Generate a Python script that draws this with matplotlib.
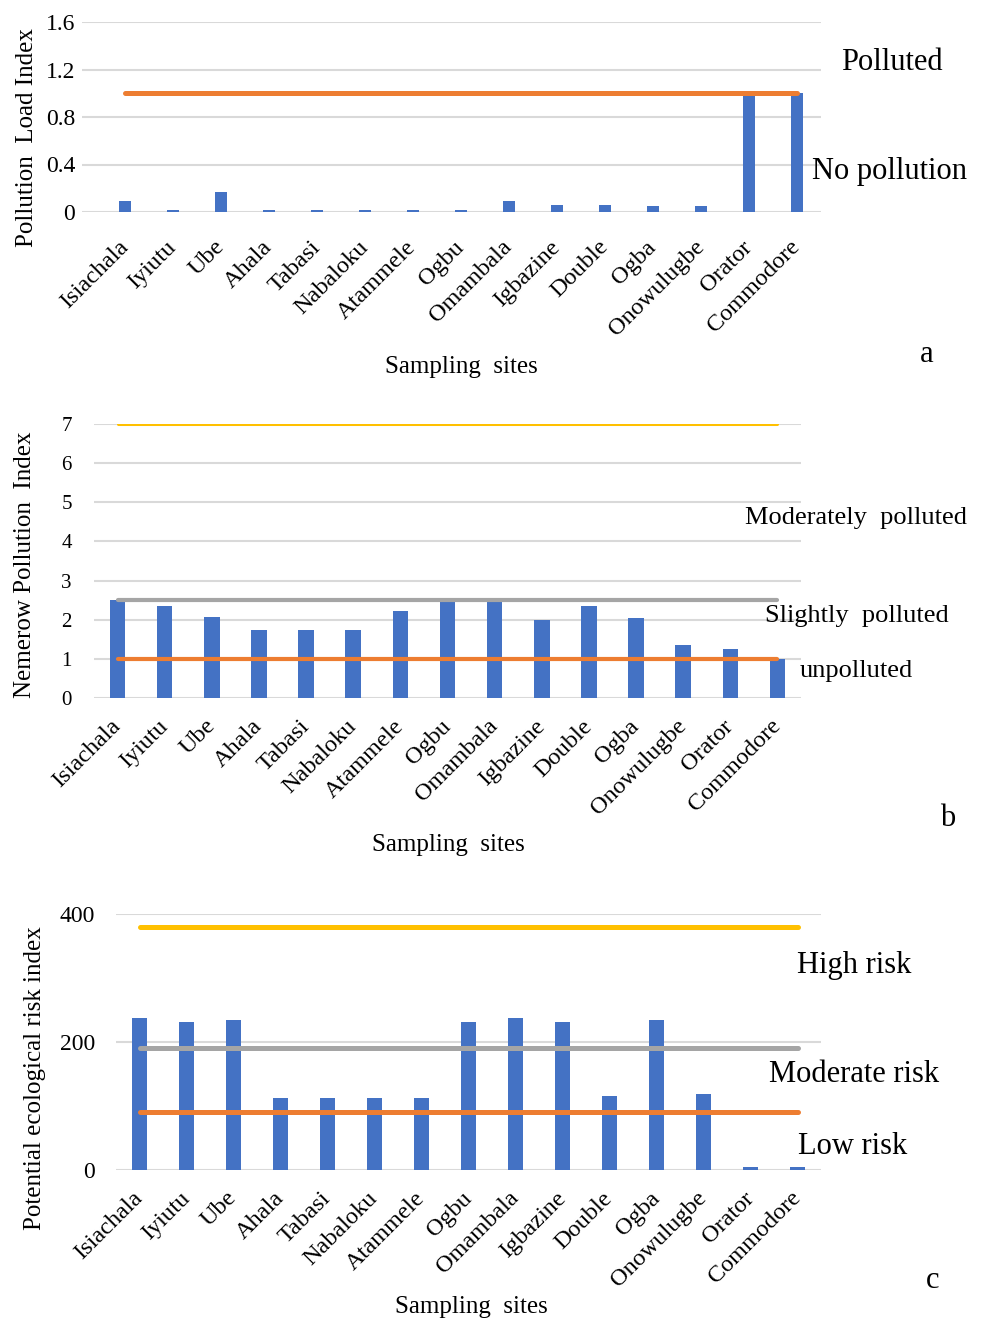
import matplotlib
matplotlib.use('Agg')  # no display
import matplotlib.pyplot as plt
import numpy as np

sites = ['Isiachala', 'Iyiutu', 'Ube', 'Ahala', 'Tabasi', 'Nabaloku', 'Atammele',
         'Ogbu', 'Omambala', 'Igbazine', 'Double', 'Ogba', 'Onowulugbe', 'Orator',
         'Commodore']

# pollution load index
pli = [0.09, 0.02, 0.17, 0.02, 0.02, 0.02, 0.02, 0.02, 0.09, 0.06, 0.06, 0.05, 0.05, 1.0, 1.0]
pli_limit = 1.0

# nemerow pollution index
npi = [2.5, 2.35, 2.07, 1.73, 1.73, 1.73, 2.22, 2.5, 2.5, 2.0, 2.35, 2.05, 1.36, 1.24, 1.0]
npi_limits = [7, 2.5, 1]

# potential ecological risk index
ri = [237, 231, 234, 112, 112, 112, 112, 231, 237, 231, 115, 234, 118, 4, 4]
ri_limits = [380, 190, 90]

BLUE = '#4472C4'
ORANGE = '#ED7D31'
GREY = '#A5A5A5'
YELLOW = '#FFC000'
GRID = '#D9D9D9'

plt.rcParams['font.family'] = ['Liberation Serif', 'DejaVu Serif']

W, H = 984, 1322
fig = plt.figure(figsize=(W / 100, H / 100), dpi=100)


def px_axes(left, top, right, bottom):
    return fig.add_axes([left / W, 1 - bottom / H, (right - left) / W, (bottom - top) / H])


def px_text(x, y, s, size, **kw):
    fig.text(x / W, 1 - y / H, s, fontsize=size, ha='center', va='center', **kw)


def setup(ax, yticks, ylabels, ytick_size, ypad, xpad, xlim):
    ax.set_xlim(*xlim)
    ax.set_ylim(yticks[0], yticks[-1])
    ax.set_yticks(yticks)
    ax.set_yticklabels(ylabels)
    ax.set_xticks(np.arange(len(sites)))
    ax.set_xticklabels(sites, rotation=45, ha='right', va='center',
                       rotation_mode='anchor', fontsize=17.5)
    ax.tick_params(axis='y', length=0, pad=ypad, labelsize=ytick_size)
    ax.tick_params(axis='x', length=0, pad=xpad)
    for s in ax.spines.values():
        s.set_visible(False)
    ax.yaxis.grid(True, color=GRID, linewidth=1.5)
    ax.set_axisbelow(True)


x = np.arange(len(sites))
xend = [0, len(sites) - 1]

# ---- a: PLI
ax1 = px_axes(82, 22, 821, 212)
ax1.bar(x, pli, width=0.25, color=BLUE, zorder=2)
ax1.plot(xend, [pli_limit] * 2, color=ORANGE, linewidth=3.6, solid_capstyle='round', zorder=3)
setup(ax1, [0, 0.4, 0.8, 1.2, 1.6], ['0', '0.4', '0.8', '1.2', '1.6'], 17, 5, 23, (-0.9, 14.5))
px_text(892, 63, 'Polluted', 22)
px_text(890, 172, 'No pollution', 22)
px_text(461, 367, 'Sampling  sites', 18)
px_text(927, 355, 'a', 22)
px_text(27, 138, 'Pollution  Load Index', 18, rotation=90)

# ---- b: Nemerow
ax2 = px_axes(94, 424, 801, 698)
ax2.bar(x, npi, width=0.33, color=BLUE, zorder=2)
for v, c, lw in zip(npi_limits, [YELLOW, GREY, ORANGE], [2.2, 3.0, 3.0]):
    ax2.plot(xend, [v, v], color=c, linewidth=lw, solid_capstyle='round', zorder=3)
setup(ax2, list(range(8)), [str(i) for i in range(8)], 15, 16, 18, (-0.5, 14.5))
px_text(856, 518, 'Moderately  polluted', 19)
px_text(857, 616, 'Slightly  polluted', 19)
px_text(856, 671, 'unpolluted', 19)
px_text(448, 845, 'Sampling  sites', 18)
px_text(948, 818, 'b', 22)
px_text(25, 565, 'Nemerow Pollution  Index', 18, rotation=90)

# ---- c: RI
ax3 = px_axes(116, 914, 821, 1170)
ax3.bar(x, ri, width=0.3, color=BLUE, zorder=2)
for v, c in zip(ri_limits, [YELLOW, GREY, ORANGE]):
    ax3.plot(xend, [v, v], color=c, linewidth=3.6, solid_capstyle='round', zorder=3)
setup(ax3, [0, 200, 400], ['0', '200', '400'], 17, 15, 18, (-0.5, 14.5))
px_text(854, 966, 'High risk', 22)
px_text(854, 1074, 'Moderate risk', 22)
px_text(853, 1147, 'Low risk', 22)
px_text(471, 1307, 'Sampling  sites', 18)
px_text(933, 1280, 'c', 22)
px_text(35, 1078, 'Potential ecological risk index', 18, rotation=90)

fig.savefig('out.png', dpi=100)
plt.close(fig)
